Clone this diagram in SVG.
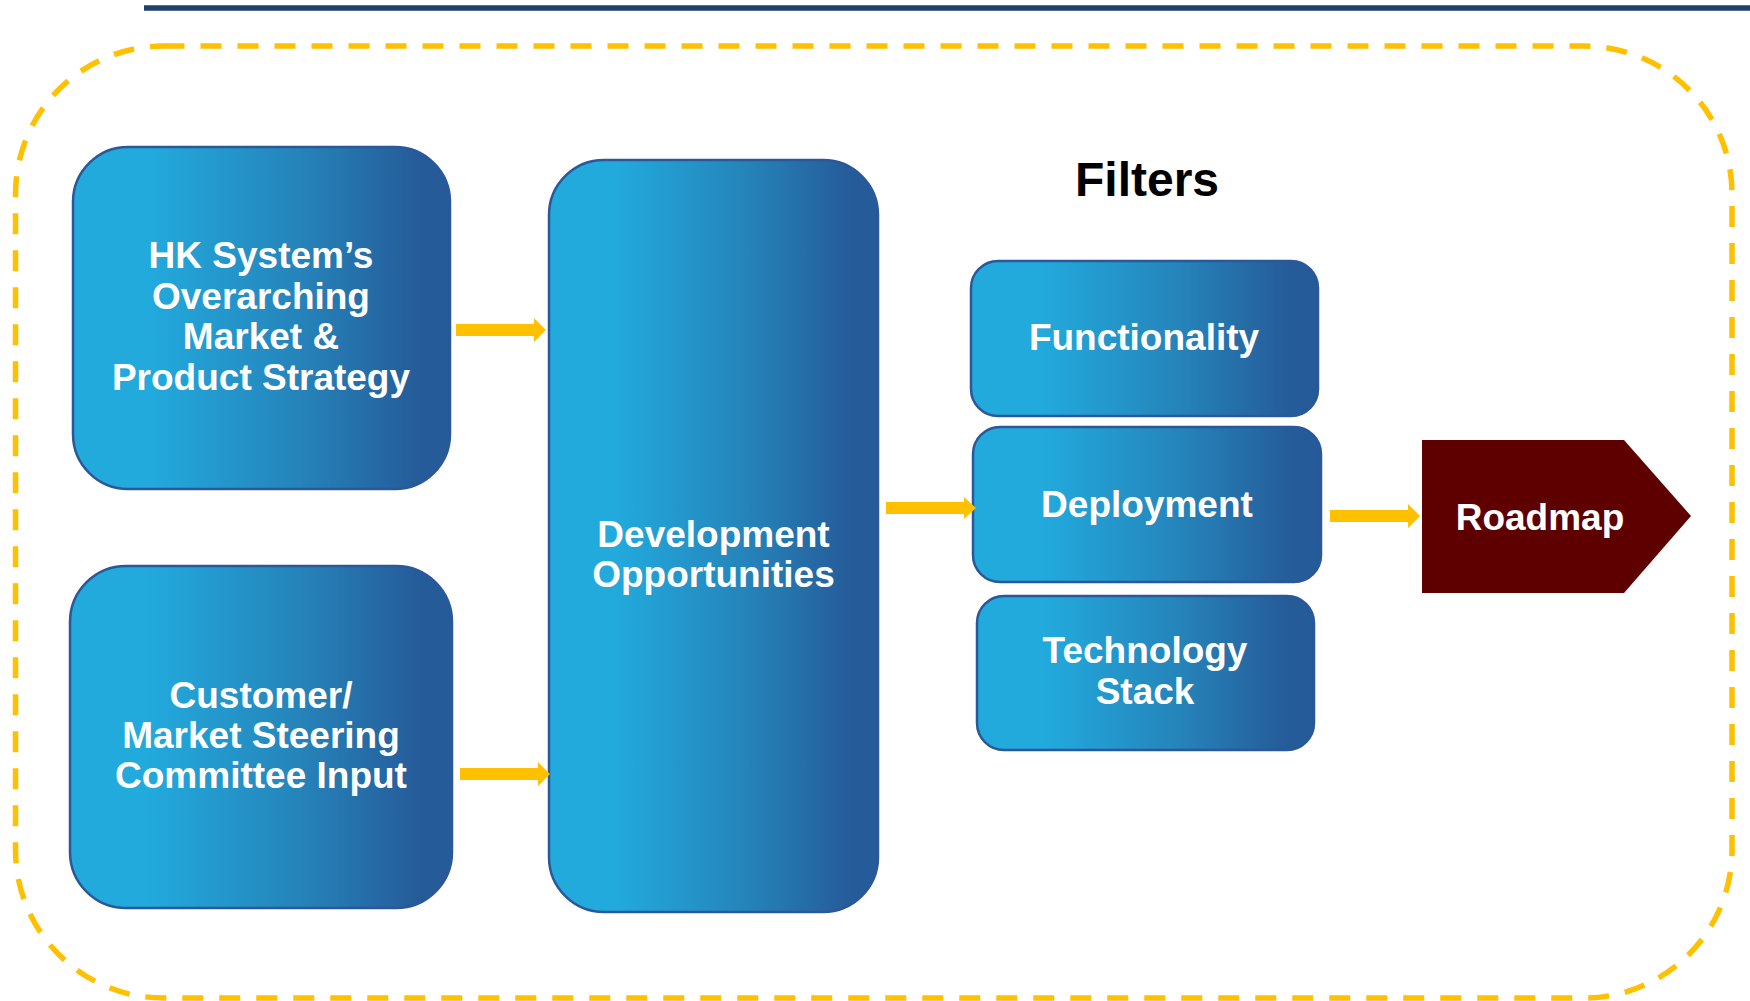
<svg xmlns="http://www.w3.org/2000/svg" width="1750" height="1001" viewBox="0 0 1750 1001">
  <defs>
    <linearGradient id="blueGrad" x1="0" y1="0" x2="1" y2="0">
      <stop offset="0" stop-color="#22AADD"/>
      <stop offset="0.2" stop-color="#22AADD"/>
      <stop offset="0.6" stop-color="#2584BA"/>
      <stop offset="0.92" stop-color="#255B99"/>
      <stop offset="1" stop-color="#255B99"/>
    </linearGradient>
    <style>
      .box { fill: url(#blueGrad); stroke: #2A5898; stroke-width: 2.5; }
      .lbl { font-family: "Liberation Sans", Arial, sans-serif; font-weight: bold; fill: #FFFFFF; text-anchor: middle; font-size: 37px; }
      .title { font-family: "Liberation Sans", Arial, sans-serif; font-weight: bold; fill: #000000; text-anchor: middle; font-size: 48px; }
      .arrow { fill: #FFC000; }
    </style>
  </defs>
  <rect width="1750" height="1001" fill="#FFFFFF"/>
  <line x1="144" y1="8" x2="1750" y2="8" stroke="#1F3F6E" stroke-width="5.5"/>
  <rect x="15.5" y="46" width="1716.5" height="952" rx="148" ry="148" fill="none" stroke="#FFC000" stroke-width="5.5" stroke-dasharray="21 16"/>

  <g id="hk-strategy">
    <rect class="box" x="73" y="147" width="377" height="342" rx="55" ry="55"/>
    <text class="lbl" x="261"><tspan x="261" y="268">HK System’s</tspan><tspan x="261" y="309">Overarching</tspan><tspan x="261" y="349">Market &amp;</tspan><tspan x="261" y="390">Product Strategy</tspan></text>
  </g>
  <g id="customer-input">
    <rect class="box" x="70" y="566" width="382" height="342" rx="56" ry="56"/>
    <text class="lbl" x="261"><tspan x="261" y="708">Customer/</tspan><tspan x="261" y="748">Market Steering</tspan><tspan x="261" y="788">Committee Input</tspan></text>
  </g>
  <g id="development">
    <rect class="box" x="549" y="160" width="329" height="752" rx="55" ry="55"/>
    <text class="lbl" x="713.5"><tspan x="713.5" y="547">Development</tspan><tspan x="713.5" y="587">Opportunities</tspan></text>
  </g>
  <g id="filters-title">
    <text class="title" x="1147" y="196">Filters</text>
  </g>
  <g id="functionality">
    <rect class="box" x="971" y="261" width="347" height="155" rx="27" ry="27"/>
    <text class="lbl" x="1144" y="350">Functionality</text>
  </g>
  <g id="deployment">
    <rect class="box" x="973" y="427" width="348" height="155" rx="27" ry="27"/>
    <text class="lbl" x="1147" y="517">Deployment</text>
  </g>
  <g id="technology-stack">
    <rect class="box" x="977" y="596" width="337" height="154" rx="27" ry="27"/>
    <text class="lbl" x="1145"><tspan x="1145" y="663">Technology</tspan><tspan x="1145" y="704">Stack</tspan></text>
  </g>
  <g id="roadmap">
    <polygon points="1422,440 1624,440 1691,516 1624,593 1422,593" fill="#5E0000"/>
    <text class="lbl" x="1540" y="530">Roadmap</text>
  </g>

  <g id="connectors">
    <polygon class="arrow" points="456,324 534,324 534,318 546,330 534,342 534,336 456,336"/>
    <polygon class="arrow" points="460,768 538,768 538,762 550,774 538,786 538,780 460,780"/>
    <polygon class="arrow" points="886,502 964,502 964,497 976,508 964,519 964,514 886,514"/>
    <polygon class="arrow" points="1330,510 1408,510 1408,504 1420,516 1408,528 1408,522 1330,522"/>
  </g>
</svg>
